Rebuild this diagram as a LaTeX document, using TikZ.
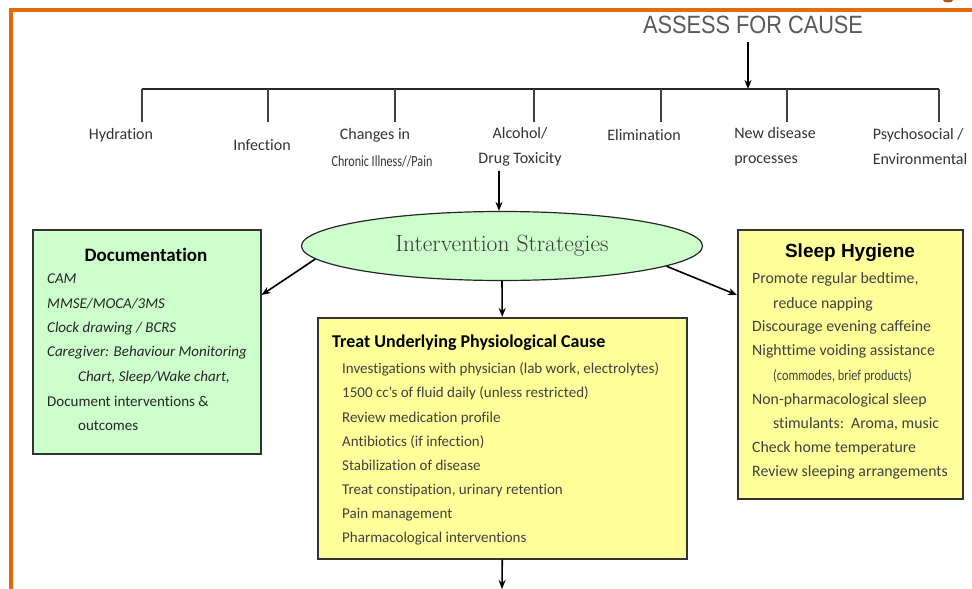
\documentclass[tikz,border=0pt]{standalone}
\usepackage{fontspec}
\usetikzlibrary{shapes.geometric,arrows.meta}
\newfontfamily\calfont{Carlito}[Ligatures=NoCommon]
\newfontfamily\arialfont{Liberation Sans}
\definecolor{orng}{HTML}{E36C0A}
\definecolor{lgreen}{HTML}{CCFFCC}
\definecolor{lyellow}{HTML}{FFFF99}
\definecolor{txtgray}{HTML}{333333}
\definecolor{itemgray}{HTML}{404040}
\begin{document}
\begin{tikzpicture}[x=1pt,y=-1pt,
  lbl/.style={font=\calfont\fontsize{16}{25}\selectfont, text=txtgray, align=center, inner sep=0pt},
  fixh/.style={text height=11pt, text depth=3.5pt},
  item/.style={anchor=west, inner sep=0pt, fixh, font=\calfont\fontsize{15}{17}\selectfont, text=itemgray},
  ditem/.style={anchor=west, inner sep=0pt, fixh, font=\calfont\fontsize{15}{17}\selectfont, text=black!85},
  sitem/.style={anchor=west, inner sep=0pt, fixh, font=\calfont\fontsize{15.8}{17}\selectfont, text=itemgray},
  box/.style={draw=black!80, line width=1.5pt, anchor=north west, inner sep=0pt},
  arr/.style={-{Stealth[length=9pt,width=7pt]}, line width=1.6pt, black},
  tick/.style={line width=1.2pt, black!75}
]
\useasboundingbox (0,0) rectangle (972,589);
% orange frame
\draw[orng, line width=4pt] (9,10) -- (972,10);
\draw[orng, line width=4pt] (11,8) -- (11,589);
\fill[orng!80!black] (948,0) ellipse (5pt and 2.5pt);

% title
\node[inner sep=0pt, text=black!65, font=\arialfont\fontsize{25}{28}\selectfont] (assess) at (753,25) {\scalebox{0.87}[1]{ASSESS FOR CAUSE}};
\coordinate (bus) at (748,89);
\draw[arr] ([yshift=-8pt]assess.south -| bus) -- (bus);

% bus line and ticks
\coordinate (b1) at (142,89);
\coordinate (b2) at (268,89);
\coordinate (b3) at (395,89);
\coordinate (b4) at (534,89);
\coordinate (b5) at (661,89);
\coordinate (b6) at (787,89);
\coordinate (b7) at (939,89);
\draw[line width=1.4pt, black!85] (b1) -- (b7);
\foreach \i in {1,...,7} {\draw[tick] (b\i) -- ++(0,33);}

% labels
\node[lbl] (hyd) at (121,135) {Hydration};
\node[lbl] (inf) at (262,145) {Infection};
\node[lbl] (chg) at (375,135) {Changes in};
\node[lbl, font=\calfont\fontsize{15.5}{16}\selectfont] (chr) at (382,161) {\scalebox{0.78}[1]{Chronic Illness//Pain}};
\node[lbl] (alc) at (520,147) {Alcohol/\\Drug Toxicity};
\node[lbl] (eli) at (644,135) {Elimination};
\node[lbl, align=left] (new) at (775,147) {New disease\\processes};
\node[lbl, align=left] (psy) at (920,147) {Psychosocial /\\Environmental};

% ellipse
\node[ellipse, draw=black!85, line width=1.2pt, fill=lgreen, minimum width=401, minimum height=69, inner sep=0pt,
  text=black!78, font=\fontsize{23.5}{25}\selectfont] (ell) at (502,246) {Intervention Strategies};
\draw[arr] (ell.north |- alc.south) ++(-3,4) -- ([xshift=-3pt]ell.north);

% boxes
\node[box, fill=lgreen, minimum width=228, minimum height=224] (doc) at (32,229) {};
\node[box, fill=lyellow, minimum width=369, minimum height=241] (treat) at (317,317) {};
\node[box, fill=lyellow, minimum width=225, minimum height=269] (sleep) at (737,229) {};

\draw[arr] (ell.184) -- ([yshift=-66pt]doc.north east);
\draw[arr] (ell.-7) -- ([yshift=-66pt]sleep.north west);
\draw[arr] (ell.south) -- (treat.north);
\coordinate (out) at (502,589);
\draw[arr] (treat.south) -- (out);

% documentation text
\node[inner sep=0pt, font=\calfont\bfseries\fontsize{19}{21}\selectfont] (doct) at (146,255) {Documentation};
\node[ditem] (d1) at (47,280) {\itshape CAM};
\node[ditem] (d2) at (47,305) {\itshape MMSE/MOCA/3MS};
\node[ditem] (d3) at (47,329) {\itshape Clock drawing / BCRS};
\node[ditem] (d4) at (47,353) {\itshape Caregiver: Behaviour Monitoring};
\node[ditem] (d5) at (78,378) {\itshape Chart, Sleep/Wake chart,};
\node[ditem] (d6) at (47,403) {Document interventions \&};
\node[ditem] (d7) at (78,427) {outcomes};

% treat text
\node[anchor=west, inner sep=0pt, font=\calfont\bfseries\fontsize{18}{20}\selectfont] (tt) at (332,343) {Treat Underlying Physiological Cause};
\node[item] (t1) at (342,370) {Investigations with physician (lab work, electrolytes)};
\node[item] (t2) at (342,394) {1500 cc’s of fluid daily (unless restricted)};
\node[item] (t3) at (342,419) {Review medication profile};
\node[item] (t4) at (342,443) {Antibiotics (if infection)};
\node[item] (t5) at (342,467) {Stabilization of disease};
\node[item] (t6) at (342,491) {Treat constipation, urinary retention};
\node[item] (t7) at (342,515) {Pain management};
\node[item] (t8) at (342,539) {Pharmacological interventions};

% sleep text
\node[inner sep=0pt, font=\arialfont\bfseries\fontsize{19}{21}\selectfont] (st) at (850,253) {Sleep Hygiene};
\node[sitem] (s1) at (752,280) {Promote regular bedtime,};
\node[sitem] (s2) at (773,305) {reduce napping};
\node[sitem] (s3) at (752,328) {Discourage evening caffeine};
\node[sitem] (s4) at (752,352) {Nighttime voiding assistance};
\node[sitem, font=\calfont\fontsize{15}{16}\selectfont] (s5) at (773,377) {\scalebox{0.82}[1]{(commodes, brief products)}};
\node[sitem] (s6) at (752,401) {Non-pharmacological sleep};
\node[sitem] (s7) at (773,425) {stimulants:\ \ Aroma, music};
\node[sitem] (s8) at (752,449) {Check home temperature};
\node[sitem] (s9) at (752,473) {Review sleeping arrangements};
\end{tikzpicture}
\end{document}
